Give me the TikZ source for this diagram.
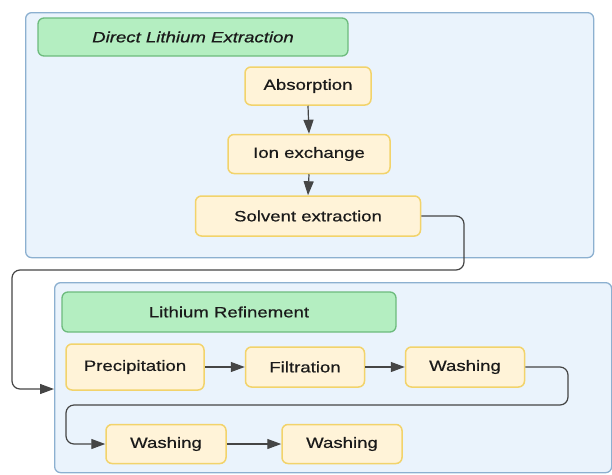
\documentclass[tikz,border=0pt]{standalone}
\usepackage{fontspec}
\setmainfont{Liberation Sans}
\newfontfamily\lbl{Liberation Sans}[FakeBold=0.5]
\usetikzlibrary{arrows.meta}
\definecolor{contfill}{HTML}{EAF3FC}
\definecolor{contdraw}{HTML}{8CB0D0}
\definecolor{grnfill}{HTML}{B4EEC1}
\definecolor{grndraw}{HTML}{6DBB7D}
\definecolor{ylwfill}{HTML}{FFF3D8}
\definecolor{ylwdraw}{HTML}{F2D36B}
\definecolor{arrcol}{HTML}{454545}
\definecolor{txtcol}{HTML}{1A1A1A}
\newcommand{\tx}[1]{\scalebox{1.24}[1]{#1}}
\tikzset{
  container/.style={draw=contdraw, fill=contfill, line width=1.3pt, rounded corners=6pt, inner sep=0pt},
  titlebox/.style={draw=grndraw, fill=grnfill, line width=1.3pt, rounded corners=6pt, inner sep=0pt, text=txtcol, font=\lbl\fontsize{15}{18}\selectfont},
  stepbox/.style={draw=ylwdraw, fill=ylwfill, line width=1.5pt, rounded corners=6pt, inner sep=0pt, text=txtcol, font=\lbl\fontsize{15}{18}\selectfont},
  conn/.style={draw=arrcol, line width=1.2pt, -{Triangle[length=14pt,width=10pt]}},
}
\begin{document}
\begin{tikzpicture}[x=1pt,y=-1pt]
\useasboundingbox (0,0) rectangle (612,474);
% containers
\node[container, minimum width=568pt, minimum height=245pt, anchor=north west] (cont1) at (25,12) {};
\node[container, minimum width=557pt, minimum height=190pt, anchor=north west] (cont2) at (54,282) {};
% titles
\node[titlebox, minimum width=310pt, minimum height=38pt] (t1) at (193,37) {\tx{\itshape Direct Lithium Extraction}};
\node[titlebox, minimum width=334pt, minimum height=40pt] (t2) at (229,312) {\tx{Lithium Refinement}};
% steps
\node[stepbox, minimum width=126pt, minimum height=38pt] (abs) at (308,86) {\tx{Absorption}};
\node[stepbox, minimum width=162pt, minimum height=39pt] (ion) at (309,154) {\tx{Ion exchange}};
\node[stepbox, minimum width=225pt, minimum height=40pt] (solv) at (308,216) {\tx{Solvent extraction}};
\node[stepbox, minimum width=138pt, minimum height=46pt] (prec) at (135,367) {\tx{Precipitation}};
\node[stepbox, minimum width=119pt, minimum height=40pt] (filt) at (305,367) {\tx{Filtration}};
\node[stepbox, minimum width=119pt, minimum height=40pt] (wash1) at (465,367) {\tx{Washing}};
\node[stepbox, minimum width=120pt, minimum height=39pt] (wash2) at (166,444) {\tx{Washing}};
\node[stepbox, minimum width=120pt, minimum height=39pt] (wash3) at (342,444) {\tx{Washing}};
% connectors
\draw[conn] (abs.south) -- (ion.north);
\draw[conn] (ion.south) -- (solv.north);
\draw[conn] (prec.east) -- (filt.west);
\draw[conn] (filt.east) -- (wash1.west);
\draw[conn] (wash2.east) -- (wash3.west);
\coordinate (in1) at (54,389);
\draw[conn, rounded corners=8pt] (solv.east) -- (464,216) -- (464,270) -- (12,270) -- (12,389) -- (in1);
\draw[conn, rounded corners=8pt] (wash1.east) -- (568,367) -- (568,405) -- (66,405) -- (66,444) -- (wash2.west);
\end{tikzpicture}
\end{document}
